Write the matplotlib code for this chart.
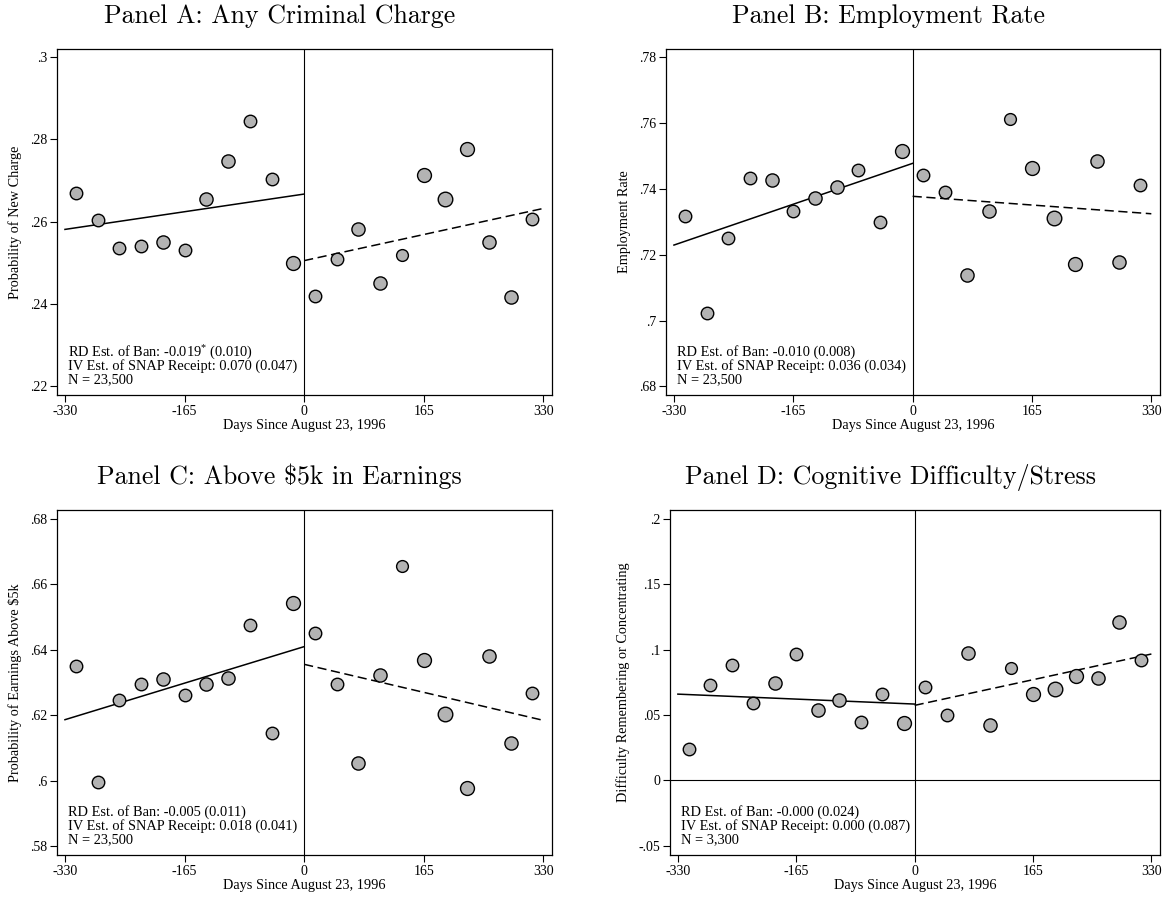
import matplotlib
matplotlib.use("Agg")
import matplotlib.pyplot as plt
from matplotlib.ticker import FuncFormatter

plt.rcParams['font.family'] = ['Liberation Serif', 'DejaVu Serif']
plt.rcParams['mathtext.fontset'] = 'custom'
plt.rcParams['mathtext.rm'] = 'Liberation Serif'

# bin midpoints (days relative to the cutoff)
bins_left = [-315, -285, -255, -225, -195, -165, -135, -105, -75, -45, -15]
bins_right = [15, 45, 75, 105, 135, 165, 195, 225, 255, 285, 315]
# marker size follows bin size
size_left = [9, 9, 9, 9, 9.5, 9, 9.5, 9.5, 9, 9, 10]
size_right = [9, 9, 9.5, 9.5, 8.5, 10, 10.5, 10, 9.5, 9.5, 9]

# Panel A: any criminal charge
a_left = [.2670, .2605, .2536, .2540, .2550, .2532, .2655, .2747, .2845, .2704, .2500]
a_right = [.2420, .2508, .2581, .2451, .2518, .2713, .2655, .2777, .2551, .2417, .2606]
a_fit_left = [.2581, .2667]
a_fit_right = [.2505, .2632]

# Panel B: employment rate
b_left = [.7317, .7024, .7251, .7433, .7427, .7333, .7372, .7405, .7458, .7299, .7515]
b_right = [.7441, .7389, .7138, .7333, .7612, .7463, .7312, .7171, .7485, .7177, .7411]
b_fit_left = [.7229, .7477]
b_fit_right = [.7377, .7324]

# Panel C: above $5k in earnings
c_left = [.6350, .5997, .6246, .6297, .6312, .6261, .6295, .6314, .6477, .6147, .6543]
c_right = [.6451, .6295, .6056, .6322, .6656, .6369, .6205, .5978, .6382, .6117, .6268]
c_fit_left = [.6187, .6410]
c_fit_right = [.6356, .6185]

# Panel D: cognitive difficulty
d_left = [.0241, .0731, .0886, .0591, .0744, .0970, .0536, .0617, .0444, .0662, .0439]
d_right = [.0711, .0500, .0977, .0421, .0858, .0660, .0703, .0800, .0784, .1213, .0921]
d_fit_left = [.0660, .0584]
d_fit_right = [.0574, .0967]

titles = ['Panel A: Any Criminal Charge', 'Panel B: Employment Rate',
          'Panel C: Above $5k in Earnings', 'Panel D: Cognitive Difficulty/Stress']
ylabels = ['Probability of New Charge', 'Employment Rate',
           'Probability of Earnings Above $5k', 'Difficulty Remembering or Concentrating']
notes = [
    ['RD Est. of Ban: -0.019$^{*}$ (0.010)', 'IV Est. of SNAP Receipt: 0.070 (0.047)', 'N = 23,500'],
    ['RD Est. of Ban: -0.010 (0.008)', 'IV Est. of SNAP Receipt: 0.036 (0.034)', 'N = 23,500'],
    ['RD Est. of Ban: -0.005 (0.011)', 'IV Est. of SNAP Receipt: 0.018 (0.041)', 'N = 23,500'],
    ['RD Est. of Ban: -0.000 (0.024)', 'IV Est. of SNAP Receipt: 0.000 (0.087)', 'N = 3,300'],
]
yticks = [
    [.22, .24, .26, .28, .3],
    [.68, .7, .72, .74, .76, .78],
    [.58, .6, .62, .64, .66, .68],
    [-.05, 0, .05, .1, .15, .2],
]
ylims = [(.2178, .302), (.6774, .7824), (.5774, .6827), (-.0571, .2069)]
xticks = [-330, -165, 0, 165, 330]
fit_x_left = [-330, 0]
fit_x_right = [0, 330]

lefts = [a_left, b_left, c_left, d_left]
rights = [a_right, b_right, c_right, d_right]
fits_l = [a_fit_left, b_fit_left, c_fit_left, d_fit_left]
fits_r = [a_fit_right, b_fit_right, c_fit_right, d_fit_right]

# axes boxes in pixels: left, top, right, bottom
boxes = [(57, 49, 552, 395), (666, 49, 1160, 395),
         (57, 510, 552, 855), (670, 510, 1160, 855)]

W, H = 1165, 900
fig = plt.figure(figsize=(W / 100, H / 100), dpi=100)


def stata_fmt(v, pos):
    s = '%g' % round(v, 4)
    return s.replace('0.', '.')


for i in range(4):
    l, t, r, b = boxes[i]
    ax = fig.add_axes([l / W, 1 - b / H, (r - l) / W, (b - t) / H])
    ax.plot(fit_x_left, fits_l[i], color='black', lw=1.1, zorder=2)
    ax.plot(fit_x_right, fits_r[i], color='black', lw=1.1, ls=(0, (6, 3)), zorder=2)
    for x, y, s in zip(bins_left + bins_right, lefts[i] + rights[i], size_left + size_right):
        ax.plot(x, y, 'o', ms=s, mfc='#b3b3b3', mec='black', mew=1.0, zorder=3)
    ax.axvline(0, color='black', lw=0.8, zorder=1)
    if i == 3:
        ax.axhline(0, color='black', lw=0.8, zorder=1)
    ax.set_xlim(-341, 342)
    ax.set_ylim(*ylims[i])
    ax.set_xticks(xticks)
    ax.set_xticklabels([str(v) for v in xticks])
    ax.set_yticks(yticks[i])
    ax.yaxis.set_major_formatter(FuncFormatter(stata_fmt))
    ax.tick_params(direction='out', length=5, width=0.8, labelsize=10, pad=2,
                   top=False, right=False)
    for sp in ax.spines.values():
        sp.set_linewidth(0.9)
    ax.set_ylabel(ylabels[i], fontsize=10.3, labelpad=6)
    ax.set_xlabel('Days Since August 23, 1996', fontsize=10.3, labelpad=1)
    for y, line in zip([.113, .073, .034], notes[i]):
        ax.text(0.022, y, line, transform=ax.transAxes, fontsize=10.4,
                ha='left', va='baseline')
    ax.text(0.45, 1.075, titles[i], transform=ax.transAxes, fontsize=18.6,
            family='cmr10', ha='center', va='baseline')

fig.savefig('out.png', dpi=100)
